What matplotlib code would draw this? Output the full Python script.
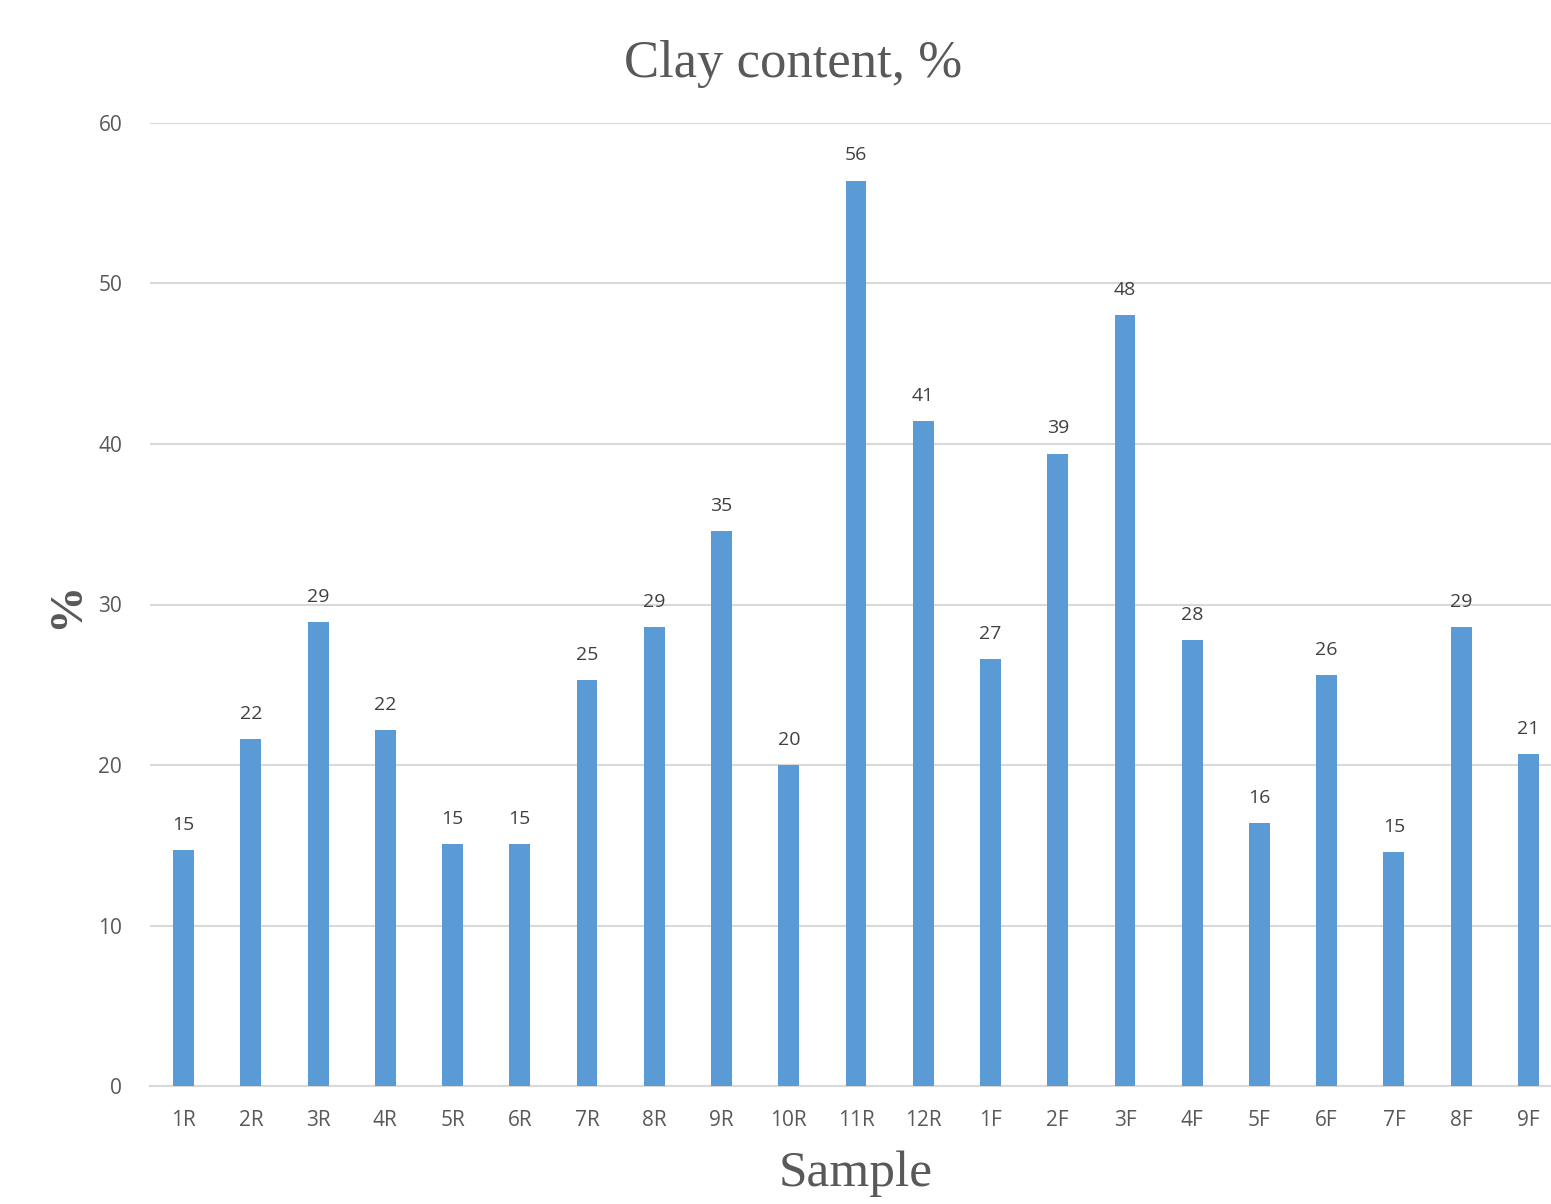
import matplotlib
matplotlib.use('Agg')
import matplotlib.pyplot as plt
import numpy as np

samples = ['1R', '2R', '3R', '4R', '5R', '6R', '7R', '8R', '9R', '10R', '11R', '12R',
           '1F', '2F', '3F', '4F', '5F', '6F', '7F', '8F', '9F']
clay = [14.7, 21.6, 28.9, 22.2, 15.1, 15.1, 25.3, 28.6, 34.6, 20.0, 56.4, 41.4,
        26.6, 39.4, 48.0, 27.8, 16.4, 25.6, 14.6, 28.6, 20.7]

fig = plt.figure(figsize=(15.51, 12.04), dpi=100)
# plot area runs a little past the right edge, as in the cropped original
ax = fig.add_axes([150/1551, (1204-1086.3)/1204, 1412/1551, (1086.3-122.7)/1204])

x = np.arange(len(samples))
bars = ax.bar(x, clay, width=0.31, color='#5B9BD5', zorder=3)

for b, v in zip(bars, clay):
    ax.text(b.get_x() + b.get_width()/2, v + 1.0, f'{v:.0f}', ha='center', va='bottom',
            fontsize=14, family='Open Sans', color='#404040')

ax.set_xlim(-0.5, len(samples) - 0.5)
ax.set_ylim(0, 60)
ax.set_yticks(range(0, 61, 10))
ax.set_xticks(x)
ax.set_xticklabels(samples)
ax.grid(axis='y', color='#D9D9D9', linewidth=1.5, zorder=0)
for s in ['top', 'right', 'left']:
    ax.spines[s].set_visible(False)
ax.spines['bottom'].set_color('#D9D9D9')
ax.spines['bottom'].set_linewidth(1.5)
ax.tick_params(length=0, labelsize=15, labelcolor='#595959')
ax.tick_params(axis='y', pad=20)
ax.tick_params(axis='x', pad=17)
for lbl in ax.get_xticklabels() + ax.get_yticklabels():
    lbl.set_family('Open Sans')

fig.text(793/1551, 1 - 64/1204, 'Clay content, %', ha='center', va='center',
         family='Liberation Serif', fontsize=38, color='#595959')
fig.text(856/1551, 1 - 1174/1204, 'Sample', ha='center', va='center',
         family='Liberation Serif', fontsize=37, color='#595959')
fig.text(67/1551, 1 - 605/1204, '%', ha='center', va='center', rotation=90,
         family='Liberation Serif', fontsize=34, fontweight='bold', color='#595959')

plt.savefig('out.png', dpi=100)
